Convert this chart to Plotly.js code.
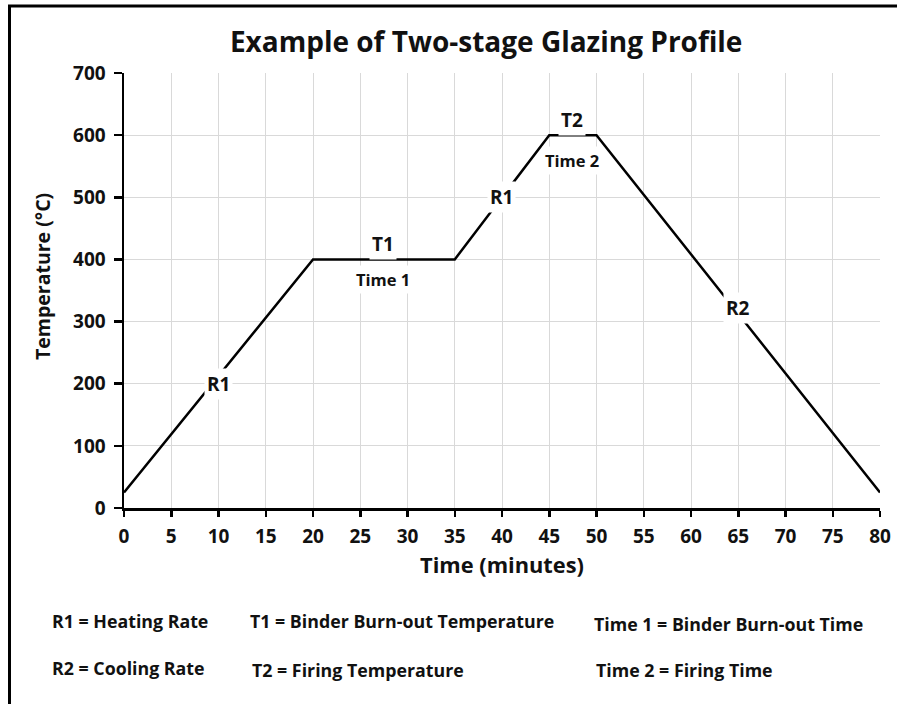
<!DOCTYPE html>
<html><head><meta charset="utf-8">
<script src="https://cdn.plot.ly/plotly-3.0.1.min.js"></script>
<style>html,body{margin:0;padding:0;background:#fff}#chart{width:897px;height:704px}</style>
</head><body><div id="chart"></div>
<script>
const timeMin = [0, 20, 35, 45, 50, 80];
const tempC = [25, 400, 400, 600, 600, 25];
const xTicks = [0,5,10,15,20,25,30,35,40,45,50,55,60,65,70,75,80];
const yTicks = [0,100,200,300,400,500,600,700];
const labelText = ["R1", "T1", "Time 1", "R1", "T2", "Time 2", "R2"];
const labelX = [10, 27.4, 27.4, 39.9, 47.4, 47.4, 65];
const labelY = [200, 425, 367, 500, 624, 560, 322];
const labelSize = [19, 19, 16.5, 19, 19, 16.5, 19];
const keyText = ["R1 = Heating Rate", "T1 = Binder Burn-out Temperature", "Time 1 = Binder Burn-out Time",
                 "R2 = Cooling Rate", "T2 = Firing Temperature", "Time 2 = Firing Time"];
const keyPx = [50, 248, 592, 50, 250, 594];
const keyPy = [621, 621, 624, 668, 670, 670];
const yTitleText = 'Temperature (°C)';

const L = 124, R = 880, T = 73, B = 508;
const W = R - L, H = B - T;
const FONT = "'Open Sans', 'Noto Sans', sans-serif";

const annotations = [];
for (let i = 0; i < labelText.length; i++) {
  annotations.push({x: labelX[i], y: labelY[i], xref: 'x', yref: 'y', text: labelText[i],
    showarrow: false, bgcolor: '#ffffff', borderpad: 2,
    font: {family: FONT, size: labelSize[i], color: '#111', weight: 700}});
}
for (let i = 0; i < keyText.length; i++) {
  annotations.push({x: (keyPx[i] - L) / W, y: (B - keyPy[i]) / H, xref: 'paper', yref: 'paper',
    xanchor: 'left', yanchor: 'middle', text: keyText[i], showarrow: false,
    font: {family: FONT, size: 17.8, color: '#111', weight: 700}});
}
annotations.push({x: (42 - L) / W, y: (B - 277) / H, xref: 'paper', yref: 'paper',
  xanchor: 'center', yanchor: 'middle', textangle: -90, text: yTitleText, showarrow: false,
  font: {family: FONT, size: 19.5, color: '#111', weight: 700}});

const data = [{x: timeMin, y: tempC, type: 'scatter', mode: 'lines',
  line: {color: '#000', width: 2.5}, hoverinfo: 'skip'}];

const layout = {
  width: 897, height: 704,
  margin: {l: L, r: 897 - R, t: T, b: 704 - B},
  paper_bgcolor: '#fff', plot_bgcolor: '#fff',
  showlegend: false,
  title: {text: 'Example of Two-stage Glazing Profile', x: 0.542, xanchor: 'center', y: 0.94, yanchor: 'middle',
    font: {family: FONT, size: 28, color: '#111', weight: 700}},
  xaxis: {range: [0, 80], tickvals: xTicks, ticktext: xTicks.map(String),
    showgrid: true, gridcolor: '#d9d9d9', gridwidth: 1, zeroline: false,
    showline: true, linecolor: '#000', linewidth: 2.5, ticks: 'outside', ticklen: 6, tickwidth: 2.5, tickcolor: '#000',
    ticklabelstandoff: 4,
    tickfont: {family: FONT, size: 19, color: '#111', weight: 700},
    title: {text: 'Time (minutes)', standoff: 10, font: {family: FONT, size: 21.8, color: '#111', weight: 700}}},
  yaxis: {range: [0, 700], tickvals: yTicks, ticktext: yTicks.map(String),
    showgrid: true, gridcolor: '#d9d9d9', gridwidth: 1, zeroline: false,
    showline: true, linecolor: '#000', linewidth: 2.5, ticks: 'outside', ticklen: 8, tickwidth: 2.5, tickcolor: '#000',
    ticklabelstandoff: 4,
    tickfont: {family: FONT, size: 19, color: '#111', weight: 700}},
  annotations: annotations,
  shapes: [
    {type: 'line', xref: 'paper', yref: 'paper', x0: (8 - L) / W, x1: (897 - L) / W, y0: (B - 6) / H, y1: (B - 6) / H,
     line: {color: '#000', width: 3}, layer: 'above'},
    {type: 'line', xref: 'paper', yref: 'paper', x0: (9.5 - L) / W, x1: (9.5 - L) / W, y0: (B - 5) / H, y1: (B - 704) / H,
     line: {color: '#000', width: 3}, layer: 'above'}
  ]
};
Plotly.newPlot('chart', data, layout, {displayModeBar: false, staticPlot: true});
</script></body></html>
